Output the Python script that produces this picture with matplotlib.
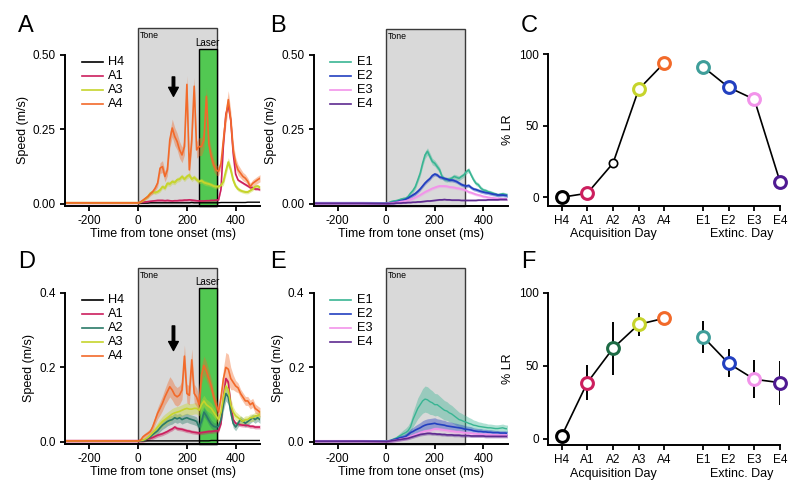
import numpy as np
import matplotlib
matplotlib.use('Agg')
import matplotlib.pyplot as plt
from matplotlib.patches import Rectangle

plt.rcParams['font.family'] = ['Liberation Sans', 'DejaVu Sans']
plt.rcParams['axes.unicode_minus'] = False

# time grid of the speed traces (ms from tone onset)
t_ms = np.concatenate(([-300, -200, -100], np.arange(0, 501, 10)))

# ---- panel A: acquisition, speed (m/s) ----
A_H4 = [0.003, 0.003, 0.003, 0.003, 0.003, 0.003, 0.003, 0.003, 0.004, 0.004,
        0.004, 0.004, 0.004, 0.004, 0.004, 0.004, 0.004, 0.004, 0.004, 0.004,
        0.004, 0.004, 0.004, 0.004, 0.004, 0.005, 0.004, 0.004, 0.004, 0.004,
        0.004, 0.004, 0.004, 0.004, 0.004, 0.004, 0.004, 0.005, 0.005, 0.005,
        0.005, 0.005, 0.005, 0.005, 0.005, 0.005, 0.005, 0.005, 0.006, 0.006,
        0.006, 0.006, 0.006, 0.006]
A_A1 = [0.004, 0.004, 0.004, 0.004, 0.005, 0.006, 0.007, 0.008, 0.009, 0.010,
        0.011, 0.012, 0.012, 0.012, 0.011, 0.012, 0.011, 0.010, 0.011, 0.011,
        0.012, 0.012, 0.013, 0.013, 0.014, 0.013, 0.012, 0.011, 0.010, 0.010,
        0.010, 0.011, 0.011, 0.012, 0.012, 0.013, 0.014, 0.050, 0.200, 0.300,
        0.330, 0.280, 0.170, 0.100, 0.080, 0.075, 0.070, 0.065, 0.060, 0.055,
        0.055, 0.050, 0.050, 0.048]
A_A3 = [0.004, 0.004, 0.004, 0.004, 0.006, 0.011, 0.018, 0.025, 0.036, 0.041,
        0.038, 0.041, 0.047, 0.058, 0.053, 0.069, 0.067, 0.075, 0.072, 0.081,
        0.083, 0.092, 0.083, 0.092, 0.097, 0.083, 0.089, 0.081, 0.075, 0.078,
        0.072, 0.069, 0.067, 0.064, 0.060, 0.058, 0.058, 0.062, 0.075, 0.110,
        0.140, 0.115, 0.080, 0.060, 0.050, 0.045, 0.042, 0.040, 0.040, 0.045,
        0.050, 0.058, 0.060, 0.055]
A_A3_sem = [0.001, 0.001, 0.001, 0.001, 0.002, 0.003, 0.004, 0.005, 0.005, 0.006,
            0.006, 0.006, 0.007, 0.007, 0.007, 0.008, 0.008, 0.008, 0.008, 0.008,
            0.008, 0.008, 0.008, 0.008, 0.008, 0.008, 0.008, 0.008, 0.008, 0.008,
            0.008, 0.008, 0.007, 0.007, 0.007, 0.007, 0.007, 0.008, 0.012, 0.015,
            0.015, 0.014, 0.010, 0.008, 0.007, 0.006, 0.006, 0.006, 0.006, 0.006,
            0.006, 0.006, 0.006, 0.006]
A_A4 = [0.004, 0.004, 0.004, 0.004, 0.007, 0.013, 0.019, 0.025, 0.034, 0.041,
        0.053, 0.070, 0.120, 0.125, 0.092, 0.114, 0.215, 0.254, 0.226, 0.209,
        0.181, 0.164, 0.192, 0.400, 0.114, 0.215, 0.394, 0.181, 0.192, 0.192,
        0.215, 0.360, 0.200, 0.159, 0.131, 0.114, 0.109, 0.136, 0.215, 0.293,
        0.349, 0.282, 0.181, 0.136, 0.114, 0.103, 0.092, 0.086, 0.075, 0.058,
        0.069, 0.075, 0.081, 0.086]
A_A4_sem = [0.002, 0.002, 0.002, 0.002, 0.003, 0.004, 0.005, 0.006, 0.007, 0.008,
            0.010, 0.012, 0.018, 0.020, 0.018, 0.020, 0.025, 0.030, 0.030, 0.028,
            0.028, 0.026, 0.028, 0.030, 0.025, 0.028, 0.030, 0.028, 0.030, 0.030,
            0.030, 0.030, 0.028, 0.025, 0.022, 0.018, 0.015, 0.018, 0.025, 0.030,
            0.030, 0.030, 0.025, 0.020, 0.018, 0.016, 0.014, 0.013, 0.012, 0.012,
            0.012, 0.012, 0.012, 0.012]

# ---- panel D: acquisition, second group ----
D_H4 = [0.003, 0.003, 0.003, 0.003, 0.003, 0.003, 0.003, 0.003, 0.003, 0.003,
        0.003, 0.003, 0.003, 0.003, 0.003, 0.003, 0.003, 0.003, 0.003, 0.003,
        0.003, 0.003, 0.003, 0.003, 0.003, 0.003, 0.003, 0.003, 0.003, 0.003,
        0.003, 0.003, 0.003, 0.004, 0.004, 0.004, 0.004, 0.004, 0.004, 0.004,
        0.004, 0.004, 0.004, 0.004, 0.004, 0.004, 0.004, 0.004, 0.004, 0.004,
        0.004, 0.004, 0.004, 0.004]
D_A1 = [0.003, 0.003, 0.003, 0.003, 0.003, 0.004, 0.006, 0.008, 0.010, 0.012,
        0.015, 0.018, 0.020, 0.022, 0.025, 0.028, 0.032, 0.035, 0.040, 0.036,
        0.035, 0.034, 0.032, 0.030, 0.029, 0.027, 0.026, 0.025, 0.024, 0.025,
        0.026, 0.027, 0.028, 0.028, 0.029, 0.030, 0.030, 0.050, 0.120, 0.170,
        0.160, 0.100, 0.060, 0.050, 0.048, 0.046, 0.045, 0.045, 0.044, 0.042,
        0.042, 0.040, 0.040, 0.040]
D_A2 = [0.003, 0.003, 0.003, 0.003, 0.003, 0.004, 0.006, 0.010, 0.014, 0.020,
        0.025, 0.030, 0.038, 0.045, 0.050, 0.055, 0.058, 0.060, 0.065, 0.062,
        0.065, 0.060, 0.063, 0.065, 0.062, 0.060, 0.058, 0.055, 0.040, 0.055,
        0.080, 0.070, 0.058, 0.048, 0.042, 0.040, 0.042, 0.060, 0.100, 0.130,
        0.120, 0.080, 0.050, 0.040, 0.050, 0.060, 0.055, 0.050, 0.055, 0.060,
        0.065, 0.060, 0.065, 0.060]
D_A2_sem = [0.001, 0.001, 0.001, 0.001, 0.002, 0.003, 0.004, 0.005, 0.006, 0.007,
            0.008, 0.009, 0.010, 0.011, 0.012, 0.012, 0.012, 0.012, 0.012, 0.012,
            0.012, 0.012, 0.012, 0.012, 0.012, 0.012, 0.012, 0.012, 0.012, 0.012,
            0.012, 0.012, 0.012, 0.011, 0.010, 0.010, 0.010, 0.012, 0.016, 0.020,
            0.020, 0.016, 0.012, 0.010, 0.010, 0.010, 0.010, 0.010, 0.010, 0.010,
            0.010, 0.010, 0.010, 0.010]
D_A3 = [0.003, 0.003, 0.003, 0.003, 0.004, 0.005, 0.008, 0.012, 0.018, 0.025,
        0.032, 0.040, 0.048, 0.055, 0.060, 0.065, 0.070, 0.075, 0.078, 0.080,
        0.082, 0.085, 0.088, 0.090, 0.088, 0.088, 0.090, 0.090, 0.085, 0.100,
        0.110, 0.100, 0.095, 0.090, 0.080, 0.070, 0.060, 0.080, 0.120, 0.150,
        0.140, 0.100, 0.080, 0.070, 0.065, 0.060, 0.055, 0.060, 0.060, 0.065,
        0.065, 0.070, 0.070, 0.075]
D_A3_sem = [0.001, 0.001, 0.001, 0.001, 0.002, 0.003, 0.005, 0.006, 0.008, 0.010,
            0.011, 0.012, 0.013, 0.014, 0.015, 0.015, 0.015, 0.015, 0.015, 0.015,
            0.015, 0.015, 0.015, 0.015, 0.015, 0.015, 0.015, 0.015, 0.015, 0.015,
            0.015, 0.015, 0.015, 0.014, 0.013, 0.012, 0.012, 0.014, 0.018, 0.022,
            0.022, 0.018, 0.014, 0.012, 0.011, 0.010, 0.010, 0.010, 0.010, 0.010,
            0.010, 0.010, 0.010, 0.010]
D_A4 = [0.003, 0.003, 0.003, 0.003, 0.005, 0.014, 0.019, 0.023, 0.028, 0.041,
        0.059, 0.077, 0.090, 0.104, 0.121, 0.135, 0.148, 0.139, 0.126, 0.121,
        0.126, 0.139, 0.230, 0.130, 0.125, 0.220, 0.130, 0.120, 0.100, 0.180,
        0.205, 0.190, 0.170, 0.150, 0.120, 0.100, 0.080, 0.120, 0.170, 0.200,
        0.195, 0.170, 0.160, 0.150, 0.145, 0.130, 0.120, 0.110, 0.110, 0.100,
        0.105, 0.090, 0.085, 0.080]
D_A4_sem = [0.002, 0.002, 0.002, 0.002, 0.003, 0.005, 0.006, 0.007, 0.008, 0.010,
            0.012, 0.015, 0.018, 0.020, 0.022, 0.025, 0.027, 0.027, 0.026, 0.025,
            0.025, 0.025, 0.030, 0.025, 0.025, 0.030, 0.025, 0.025, 0.022, 0.025,
            0.025, 0.025, 0.022, 0.020, 0.018, 0.016, 0.015, 0.020, 0.028, 0.040,
            0.040, 0.030, 0.020, 0.015, 0.013, 0.012, 0.012, 0.012, 0.012, 0.012,
            0.012, 0.012, 0.012, 0.012]

# ---- panel B: extinction ----
B_E1 = [0.003, 0.003, 0.003, 0.002, 0.004, 0.008, 0.010, 0.011, 0.013, 0.016,
        0.018, 0.019, 0.025, 0.036, 0.045, 0.058, 0.080, 0.103, 0.136, 0.164,
        0.176, 0.159, 0.142, 0.136, 0.125, 0.114, 0.092, 0.083, 0.081, 0.083,
        0.086, 0.092, 0.089, 0.086, 0.092, 0.097, 0.108, 0.114, 0.097, 0.081,
        0.069, 0.064, 0.053, 0.047, 0.045, 0.041, 0.039, 0.036, 0.033, 0.030,
        0.032, 0.034, 0.032, 0.030]
B_E1_sem = [0.001, 0.001, 0.001, 0.001, 0.002, 0.002, 0.003, 0.003, 0.004, 0.004,
            0.005, 0.005, 0.006, 0.006, 0.007, 0.008, 0.009, 0.010, 0.011, 0.012,
            0.012, 0.012, 0.011, 0.010, 0.010, 0.009, 0.008, 0.008, 0.008, 0.008,
            0.008, 0.008, 0.008, 0.008, 0.008, 0.008, 0.008, 0.008, 0.008, 0.008,
            0.007, 0.007, 0.007, 0.006, 0.006, 0.006, 0.006, 0.006, 0.006, 0.006,
            0.006, 0.006, 0.006, 0.006]
B_E2 = [0.003, 0.003, 0.003, 0.002, 0.003, 0.004, 0.005, 0.007, 0.009, 0.011,
        0.013, 0.016, 0.020, 0.025, 0.030, 0.035, 0.042, 0.050, 0.060, 0.070,
        0.078, 0.085, 0.095, 0.100, 0.097, 0.090, 0.088, 0.085, 0.083, 0.080,
        0.080, 0.078, 0.075, 0.070, 0.065, 0.062, 0.060, 0.062, 0.055, 0.050,
        0.048, 0.045, 0.042, 0.040, 0.038, 0.037, 0.035, 0.033, 0.032, 0.030,
        0.030, 0.030, 0.029, 0.028]
B_E3 = [0.002, 0.002, 0.002, 0.001, 0.002, 0.003, 0.004, 0.005, 0.006, 0.008,
        0.009, 0.010, 0.012, 0.015, 0.018, 0.022, 0.026, 0.030, 0.035, 0.040,
        0.044, 0.048, 0.052, 0.055, 0.058, 0.060, 0.060, 0.060, 0.059, 0.057,
        0.056, 0.055, 0.053, 0.052, 0.050, 0.048, 0.045, 0.040, 0.038, 0.035,
        0.032, 0.030, 0.028, 0.025, 0.024, 0.022, 0.021, 0.020, 0.019, 0.018,
        0.018, 0.017, 0.017, 0.016]
B_E4 = [0.002, 0.002, 0.002, 0.001, 0.001, 0.002, 0.002, 0.003, 0.003, 0.003,
        0.004, 0.004, 0.005, 0.005, 0.006, 0.006, 0.007, 0.007, 0.008, 0.009,
        0.010, 0.010, 0.011, 0.012, 0.013, 0.014, 0.014, 0.015, 0.014, 0.014,
        0.013, 0.013, 0.013, 0.013, 0.012, 0.012, 0.012, 0.012, 0.012, 0.012,
        0.012, 0.013, 0.013, 0.013, 0.013, 0.014, 0.014, 0.014, 0.014, 0.014,
        0.015, 0.015, 0.015, 0.015]

# ---- panel E: extinction, second group ----
E_E1 = [0.003, 0.003, 0.003, 0.002, 0.003, 0.005, 0.008, 0.010, 0.014, 0.018,
        0.022, 0.025, 0.030, 0.040, 0.060, 0.075, 0.090, 0.100, 0.110, 0.115,
        0.113, 0.108, 0.105, 0.100, 0.100, 0.095, 0.090, 0.085, 0.083, 0.078,
        0.075, 0.070, 0.065, 0.060, 0.058, 0.055, 0.053, 0.050, 0.048, 0.045,
        0.044, 0.042, 0.041, 0.040, 0.039, 0.038, 0.038, 0.037, 0.036, 0.036,
        0.037, 0.038, 0.036, 0.035]
E_E1_sem = [0.001, 0.001, 0.001, 0.001, 0.002, 0.003, 0.004, 0.005, 0.006, 0.008,
            0.010, 0.012, 0.014, 0.016, 0.020, 0.024, 0.028, 0.030, 0.033, 0.035,
            0.035, 0.034, 0.032, 0.030, 0.029, 0.028, 0.027, 0.026, 0.025, 0.024,
            0.023, 0.022, 0.021, 0.020, 0.019, 0.018, 0.017, 0.016, 0.015, 0.014,
            0.013, 0.012, 0.012, 0.011, 0.011, 0.010, 0.010, 0.010, 0.010, 0.010,
            0.010, 0.010, 0.010, 0.010]
E_E2 = [0.003, 0.003, 0.003, 0.002, 0.003, 0.004, 0.006, 0.008, 0.010, 0.012,
        0.013, 0.015, 0.020, 0.025, 0.028, 0.032, 0.035, 0.038, 0.042, 0.045,
        0.047, 0.048, 0.049, 0.050, 0.048, 0.047, 0.046, 0.045, 0.043, 0.042,
        0.041, 0.040, 0.039, 0.038, 0.037, 0.035, 0.034, 0.033, 0.032, 0.030,
        0.029, 0.028, 0.028, 0.027, 0.027, 0.026, 0.026, 0.025, 0.025, 0.025,
        0.024, 0.024, 0.024, 0.023]
E_E2_sem = [0.001, 0.001, 0.001, 0.001, 0.002, 0.002, 0.003, 0.004, 0.005, 0.006,
            0.007, 0.008, 0.009, 0.010, 0.011, 0.012, 0.013, 0.014, 0.015, 0.015,
            0.015, 0.015, 0.015, 0.015, 0.014, 0.014, 0.013, 0.013, 0.012, 0.012,
            0.012, 0.011, 0.011, 0.010, 0.010, 0.010, 0.009, 0.009, 0.009, 0.008,
            0.008, 0.008, 0.008, 0.007, 0.007, 0.007, 0.007, 0.007, 0.006, 0.006,
            0.006, 0.006, 0.006, 0.006]
E_E3 = [0.002, 0.002, 0.002, 0.001, 0.002, 0.003, 0.004, 0.005, 0.006, 0.008,
        0.009, 0.010, 0.012, 0.015, 0.017, 0.020, 0.022, 0.025, 0.027, 0.029,
        0.030, 0.031, 0.033, 0.035, 0.035, 0.034, 0.033, 0.032, 0.031, 0.030,
        0.029, 0.028, 0.027, 0.027, 0.026, 0.025, 0.024, 0.024, 0.023, 0.022,
        0.022, 0.021, 0.021, 0.020, 0.020, 0.020, 0.019, 0.019, 0.019, 0.018,
        0.018, 0.018, 0.018, 0.018]
E_E4 = [0.002, 0.002, 0.002, 0.001, 0.002, 0.003, 0.004, 0.005, 0.006, 0.007,
        0.008, 0.009, 0.010, 0.012, 0.014, 0.016, 0.018, 0.020, 0.021, 0.022,
        0.023, 0.023, 0.022, 0.022, 0.021, 0.021, 0.020, 0.020, 0.019, 0.019,
        0.019, 0.018, 0.018, 0.018, 0.017, 0.017, 0.017, 0.017, 0.016, 0.016,
        0.016, 0.016, 0.016, 0.016, 0.015, 0.015, 0.015, 0.015, 0.015, 0.015,
        0.015, 0.015, 0.015, 0.015]

# ---- panels C and F: % LR per day ----
days = ['H4', 'A1', 'A2', 'A3', 'A4', 'E1', 'E2', 'E3', 'E4']
day_pos = [0, 1, 2, 3, 4, 5.5, 6.5, 7.5, 8.5]
c_lr = [0.0, 2.8, 23.8, 75.5, 94.1, 91.3, 76.9, 68.5, 10.9]
f_lr = [1.8, 38.4, 61.9, 78.3, 82.5, 69.9, 51.6, 40.7, 38.4]
f_err = [0.0, 12.0, 18.0, 8.0, 1.5, 11.0, 9.6, 13.0, 15.0]

col = {'H4': '#000000', 'A1': '#cc1f5e', 'A2': '#2a7a68', 'A3': '#c6d42c',
       'A4': '#f26a2a', 'E1': '#39b593', 'E2': '#2340c0', 'E3': '#f293ea',
       'E4': '#5e2a90'}
mark_col = dict(col, A2='#1e6b45', E1='#3f9e9a', E4='#4f1a92')

fig = plt.figure(figsize=(8, 4.92), dpi=100)


def px_axes(l, t, r, b):
    return fig.add_axes([l / 800, 1 - b / 492, (r - l) / 800, (b - t) / 492])


def style(ax):
    for s in ['top', 'right']:
        ax.spines[s].set_visible(False)
    for s in ['left', 'bottom']:
        ax.spines[s].set_linewidth(1.4)
    ax.tick_params(direction='out', length=3.5, width=1.3, labelsize=8.5, pad=3)


def speed_panel(ax, traces, ylim, yticks, ylabels, tone_top, laser_top=None,
                arrow=None):
    style(ax)
    ax.set_xlim(-300, 500)
    ax.set_ylim(*ylim)
    ax.add_patch(Rectangle((0, ylim[0]), 325, tone_top - ylim[0], fc='#d9d9d9',
                           ec='#3a3a3a', lw=1.0, clip_on=False, zorder=0.5))
    ax.text(7, tone_top - 0.01 * (ylim[1] / 0.5), 'Tone', fontsize=6.3,
            va='top', ha='left')
    if laser_top is not None:
        ax.add_patch(Rectangle((250, ylim[0]), 75, laser_top - ylim[0],
                               fc='#52c852', ec='k', lw=1.0, clip_on=False,
                               zorder=0.6))
        ax.text(285, laser_top + 0.003, 'Laser', fontsize=7, ha='center',
                va='bottom')
    for name, mean, sem, lw in traces:
        mean = np.asarray(mean)
        sem = np.asarray(sem)
        ax.fill_between(t_ms, mean - sem, mean + sem, color=col[name],
                        alpha=0.4, lw=0, zorder=1)
        ax.plot(t_ms, mean, color=col[name], lw=lw, zorder=2)
    if arrow is not None:
        ax.annotate('', xy=(145, arrow[1]), xytext=(145, arrow[0]),
                    arrowprops=dict(width=1.8, headwidth=7, headlength=6.5,
                                    color='k'))
    # legend
    for i, (name, mean, sem, lw) in enumerate(traces):
        y = 0.95 - i * 0.093
        ax.plot([0.087, 0.195], [y, y], transform=ax.transAxes,
                color=col[name], lw=1.2, clip_on=False)
        ax.text(0.222, y, name, transform=ax.transAxes, fontsize=9.2,
                va='center')
    ax.set_xticks([-200, 0, 200, 400])
    ax.set_yticks(yticks)
    ax.set_yticklabels(ylabels)
    ax.set_xlabel('Time from tone onset (ms)', fontsize=9, labelpad=1)
    ax.set_ylabel('Speed (m/s)', fontsize=9, labelpad=3)


def day_panel(ax, vals, err, ylim, a2_col, a2_small):
    style(ax)
    ax.set_xlim(-0.53, 8.5)
    ax.set_ylim(*ylim)
    ax.plot(day_pos[:5], vals[:5], color='k', lw=1.2, zorder=2)
    ax.plot(day_pos[5:], vals[5:], color='k', lw=1.2, zorder=2)
    if err is not None:
        v = np.asarray(vals)
        e = np.asarray(err)
        ax.vlines(day_pos, v - e, v + e, color='k', lw=1.4, zorder=2)
    for x, v, d in zip(day_pos, vals, days):
        c = a2_col if d == 'A2' else mark_col[d]
        ms, mew = (6, 1.2) if (d == 'A2' and a2_small) else (8.5, 2.2)
        ax.plot(x, v, 'o', mfc='white', mec=c, ms=ms, mew=mew,
                clip_on=False, zorder=4)
    ax.set_xticks(day_pos)
    ax.set_xticklabels(days)
    ax.set_yticks([0, 50, 100])
    ax.set_ylabel('% LR', fontsize=9, labelpad=4)
    tr = ax.get_xaxis_transform()
    ax.text(2, -0.19, 'Acquisition Day', transform=tr, ha='center',
            va='center', fontsize=9)
    ax.text(7, -0.19, 'Extinc. Day', transform=tr, ha='center',
            va='center', fontsize=9)


axA = px_axes(65, 54.5, 260, 205.7)
speed_panel(axA, [('H4', A_H4, 0.0, 1.0), ('A1', A_A1, 0.004, 1.2),
                  ('A3', A_A3, A_A3_sem, 1.4), ('A4', A_A4, A_A4_sem, 1.2)],
            (-0.0057, 0.5), [0, 0.25, 0.5], ['0.00', '0.25', '0.50'],
            0.587, laser_top=0.519, arrow=(0.425, 0.36))

axB = px_axes(313.5, 54.5, 507.5, 205.7)
speed_panel(axB, [('E1', B_E1, B_E1_sem, 1.2), ('E2', B_E2, 0.006, 1.3),
                  ('E3', B_E3, 0.005, 1.3), ('E4', B_E4, 0.002, 1.2)],
            (-0.0057, 0.5), [0, 0.25, 0.5], ['0.00', '0.25', '0.50'], 0.585)

axC = px_axes(548, 54.3, 780, 205.7)
day_panel(axC, c_lr, None, (-5.9, 100), 'k', True)

axD = px_axes(65, 292.7, 260, 443.7)
speed_panel(axD, [('H4', D_H4, 0.0, 1.0), ('A1', D_A1, 0.005, 1.2),
                  ('A2', D_A2, D_A2_sem, 1.2), ('A3', D_A3, D_A3_sem, 1.2),
                  ('A4', D_A4, D_A4_sem, 1.2)],
            (-0.0046, 0.4), [0, 0.2, 0.4], ['0.0', '0.2', '0.4'],
            0.465, laser_top=0.413, arrow=(0.311, 0.245))

axE = px_axes(313.5, 292.7, 507.5, 443.7)
speed_panel(axE, [('E1', E_E1, E_E1_sem, 1.0), ('E2', E_E2, E_E2_sem, 1.2),
                  ('E3', E_E3, 0.005, 1.2), ('E4', E_E4, 0.004, 1.2)],
            (-0.0046, 0.4), [0, 0.2, 0.4], ['0.0', '0.2', '0.4'], 0.466)

axF = px_axes(548, 292.7, 780, 445)
day_panel(axF, f_lr, f_err, (-4.3, 100), mark_col['A2'], False)

for letter, x, y in [('A', 18, 32), ('B', 270, 32), ('C', 521, 32),
                     ('D', 18, 268), ('E', 270, 268), ('F', 521, 268)]:
    fig.text(x / 800, 1 - y / 492, letter, fontsize=17, va='baseline')

fig.savefig('out.png', dpi=100)
